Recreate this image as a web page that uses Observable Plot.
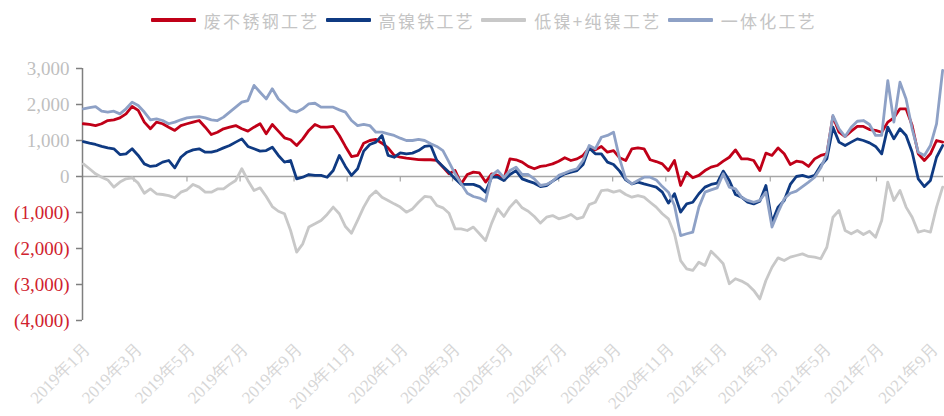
<!DOCTYPE html>
<html><head><meta charset="utf-8">
<script src="https://cdn.jsdelivr.net/npm/d3@7"></script>
<script src="https://cdn.jsdelivr.net/npm/@observablehq/plot@0.6"></script>
<style>
body{margin:0;background:#fff;}
#legend{height:40px;display:flex;align-items:center;justify-content:center;padding-left:30px;font-family:"Noto Sans CJK SC",sans-serif;font-size:17px;letter-spacing:2.3px;color:#c4c4c4;}
.item{display:flex;align-items:center;margin-right:6px;white-space:nowrap}
.sw{width:45px;height:4px;margin-right:8px;border-radius:1px}
</style></head><body>
<div id="legend"></div><div id="chart"></div>
<script>
const seriesNames = ["废不锈钢工艺", "高镍铁工艺", "低镍+纯镍工艺", "一体化工艺"];
const seriesColors = ["#c00018", "#0f3a82", "#c8c8c8", "#8ea1c6"];
const startDate = "2019-01-02"; // weekly observations
const scrap = [1465,1445,1415,1465,1555,1575,1630,1740,1945,1835,1510,1325,1510,1465,1370,1280,1415,1465,1510,1555,1370,1165,1230,1325,1370,1415,1325,1260,1370,1465,1185,1445,1260,1075,1020,860,
1045,1280,1445,1370,1370,1390,1140,835,555,585,925,1000,1030,925,795,585,535,510,490,470,465,465,445,260,75,165,-205,55,120,100,-155,75,30,-65,490,
465,400,280,215,280,305,350,425,520,445,490,585,795,740,835,675,720,520,445,770,795,770,465,415,350,165,445,-250,120,-35,30,165,260,305,425,535,
740,490,490,445,165,650,585,795,630,335,425,400,280,490,585,630,1665,1230,1110,1260,1390,1390,1305,1280,1230,1510,1630,1880,1880,1415,630,445,630,1000,955];
const npi = [970,925,890,835,795,770,610,630,770,585,350,280,305,400,445,240,535,675,740,770,675,675,720,795,860,955,1045,835,770,705,720,815,585,400,445,-65,
-20,55,30,30,-20,165,585,280,30,215,705,890,955,1140,585,535,655,630,650,720,835,860,445,280,120,-65,-220,-220,-220,-280,-435,-20,-20,-110,55,
165,-65,-130,-185,-280,-250,-130,-20,75,120,165,335,795,630,630,400,335,150,-95,-205,-155,-205,-250,-295,-435,-740,-480,-990,-760,-715,-480,-295,-220,-185,150,-110,
-500,-575,-715,-760,-685,-250,-1270,-850,-665,-220,0,30,-20,30,305,490,1370,955,860,955,1045,1000,935,835,630,1370,1045,1325,1140,675,-65,-280,-110,535,860];
const lowNi = [350,215,75,-20,-95,-295,-155,-65,-35,-185,-465,-345,-480,-500,-530,-590,-435,-370,-220,-295,-435,-435,-345,-345,-220,-110,215,-110,-390,-315,-555,-835,-965,-1035,-1500,-2100,
-1870,-1405,-1315,-1220,-1055,-850,-1035,-1390,-1575,-1220,-850,-555,-405,-575,-665,-760,-850,-990,-900,-715,-555,-575,-805,-870,-1020,-1455,-1455,-1500,-1405,-1590,-1780,-1295,-900,-1110,-850,
-665,-870,-965,-1110,-1295,-1130,-1085,-1175,-1130,-1055,-1175,-1130,-780,-715,-390,-370,-435,-390,-500,-575,-530,-575,-715,-850,-1035,-1175,-1590,-2335,-2565,-2610,-2380,-2470,-2075,-2240,-2425,-2980,
-2840,-2905,-3000,-3165,-3400,-2890,-2520,-2260,-2335,-2240,-2195,-2150,-2220,-2240,-2285,-1965,-1130,-945,-1500,-1590,-1500,-1610,-1520,-1685,-1220,-155,-665,-390,-850,-1130,-1545,-1500,-1545,-850,-295];
const integrated = [1880,1910,1940,1815,1790,1815,1740,1880,2065,1970,1790,1575,1600,1555,1465,1510,1575,1630,1650,1665,1630,1575,1555,1650,1790,1925,2065,2110,2530,2340,2155,2435,2155,2000,1835,1790,
1880,2020,2035,1925,1925,1925,1850,1790,1555,1415,1445,1415,1230,1230,1185,1140,1065,1000,1000,1030,1000,910,835,720,400,75,-200,-465,-555,-600,-685,30,165,-35,165,
260,55,55,-65,-250,-220,-130,30,95,165,215,445,860,770,1090,1140,1230,490,-65,-205,-110,-20,-20,-95,-280,-435,-805,-1640,-1590,-1545,-850,-435,-370,-315,75,-295,
-345,-575,-665,-715,-665,-435,-1405,-990,-620,-465,-405,-280,-155,-20,240,630,1695,1325,1110,1370,1535,1555,1445,1140,1140,2665,1510,2620,2155,1325,675,585,860,1460,2945];
const yTicks = [-4000, -3000, -2000, -1000, 0, 1000, 2000, 3000];
const xTickLabels = ["2019-01-01","2019-03-01","2019-05-01","2019-07-01","2019-09-01","2019-11-01",
"2020-01-01","2020-03-01","2020-05-01","2020-07-01","2020-09-01","2020-11-01",
"2021-01-01","2021-03-01","2021-05-01","2021-07-01","2021-09-01"];
const xDomain = ["2019-01-01", "2021-09-16"];

const t0 = new Date(startDate);
const allSeries = [scrap, npi, lowNi, integrated];
const dates = scrap.map((_, i) => d3.utcDay.offset(t0, 7 * i));
const toRows = vals => vals.map((v, i) => ({date: dates[i], value: v}));
const xTicks = xTickLabels.map(s => new Date(s));
const fmt = d3.format(",");
const serif = "'Liberation Serif','Times New Roman',serif";

// legend
const lg = document.getElementById("legend");
seriesNames.forEach((n, i) => {
  const it = document.createElement("div"); it.className = "item";
  const sw = document.createElement("div"); sw.className = "sw"; sw.style.background = seriesColors[i];
  const tx = document.createElement("span"); tx.textContent = n;
  it.append(sw, tx); lg.append(it);
});

const order = [2, 0, 1, 3];
const chart = Plot.plot({
  width: 944, height: 376,
  marginLeft: 82, marginRight: 1, marginTop: 28, marginBottom: 96,
  style: {fontFamily: serif, background: "#fff"},
  x: {type: "utc", domain: xDomain.map(s => new Date(s)), axis: null},
  y: {domain: [-4000, 3000], axis: null},
  marks: [
    Plot.ruleY([0], {stroke: "#a6a6a6", strokeWidth: 1.5}),
    Plot.ruleX(xTicks.slice(1), {y1: 0, y2: -150, stroke: "#a6a6a6", strokeWidth: 1.2}),
    Plot.ruleX([xTicks[0]], {y1: yTicks[0], y2: yTicks[yTicks.length - 1], stroke: "#7f7f7f", strokeWidth: 1.5}),
    Plot.axisY(yTicks, {anchor: "left", tickSize: 6, stroke: "#7f7f7f", strokeWidth: 1.5, tickFormat: () => "", label: null}),
    Plot.axisY(yTicks.filter(d => d >= 0), {anchor: "left", tickSize: 0, tickPadding: 13, fill: "#bfbfbf", fontSize: 19, tickFormat: fmt, label: null}),
    Plot.axisY(yTicks.filter(d => d < 0), {anchor: "left", tickSize: 0, tickPadding: 13, fill: "#d0222e", fontSize: 19, tickFormat: d => `(${fmt(-d)})`, label: null}),
    Plot.axisX(xTicks, {anchor: "bottom", tickSize: 0, tickPadding: 26, dx: 5, tickRotate: -45, fill: "#d6d6d6", fontSize: 17,
      tickFormat: d => `${d.getUTCFullYear()}年${d.getUTCMonth() + 1}月`, label: null}),
    ...order.map(k => Plot.lineY(toRows(allSeries[k]), {x: "date", y: "value", stroke: seriesColors[k], strokeWidth: 2.8, strokeLinejoin: "round"}))
  ]
});
document.getElementById("chart").append(chart);
</script>
</body></html>
